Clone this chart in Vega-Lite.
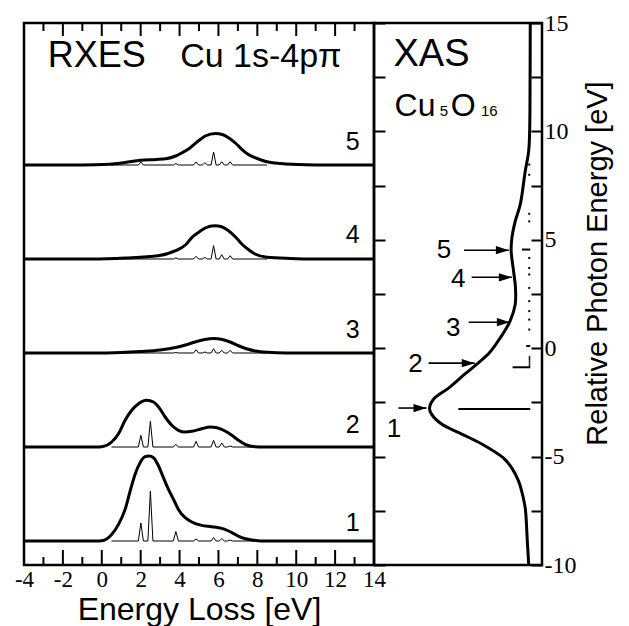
{
  "$schema": "https://vega.github.io/schema/vega-lite/v6.json",
  "padding": {"left": 13, "top": 9, "right": 5, "bottom": 0},
  "background": "white",
  "bounds": "flush",
  "spacing": 0,
  "config": {"view": {"stroke": "black", "strokeWidth": 2.5}, "font": "Liberation Sans"},
  "datasets": {
    "broad": [
      {"s":1,"E":-4,"I":0},{"s":1,"E":-0.3,"I":0},{"s":1,"E":0,"I":0.3},{"s":1,"E":0.51,"I":6.6},{"s":1,"E":0.86,"I":16.6},{"s":1,"E":1.2,"I":31.6},{"s":1,"E":1.46,"I":50},{"s":1,"E":1.71,"I":66.6},{"s":1,"E":1.97,"I":78.3},{"s":1,"E":2.23,"I":84.3},{"s":1,"E":2.43,"I":85},{"s":1,"E":2.66,"I":83.3},{"s":1,"E":2.92,"I":75},{"s":1,"E":3.17,"I":63.3},{"s":1,"E":3.43,"I":51.6},{"s":1,"E":3.69,"I":41.6},{"s":1,"E":3.94,"I":31.6},{"s":1,"E":4.29,"I":23.3},{"s":1,"E":4.63,"I":19},{"s":1,"E":5.14,"I":15.6},{"s":1,"E":5.66,"I":14.3},{"s":1,"E":6.17,"I":12.6},{"s":1,"E":6.52,"I":10},{"s":1,"E":6.86,"I":6.6},{"s":1,"E":7.2,"I":3.3},{"s":1,"E":7.72,"I":1},{"s":1,"E":8.2,"I":0},{"s":1,"E":14,"I":0},
      {"s":2,"E":-4,"I":0},{"s":2,"E":-0.3,"I":0},{"s":2,"E":0,"I":0.3},{"s":2,"E":0.51,"I":5},{"s":2,"E":0.86,"I":13.3},{"s":2,"E":1.2,"I":26.7},{"s":2,"E":1.54,"I":36.7},{"s":2,"E":1.89,"I":43.3},{"s":2,"E":2.31,"I":46.7},{"s":2,"E":2.66,"I":45},{"s":2,"E":2.92,"I":40},{"s":2,"E":3.26,"I":30},{"s":2,"E":3.6,"I":21.7},{"s":2,"E":3.94,"I":16.7},{"s":2,"E":4.29,"I":15},{"s":2,"E":4.63,"I":15.7},{"s":2,"E":5.14,"I":18.3},{"s":2,"E":5.57,"I":20},{"s":2,"E":5.92,"I":19.3},{"s":2,"E":6.34,"I":16},{"s":2,"E":6.69,"I":11.7},{"s":2,"E":7.03,"I":6.7},{"s":2,"E":7.37,"I":2.7},{"s":2,"E":7.89,"I":0.3},{"s":2,"E":8.3,"I":0},{"s":2,"E":14,"I":0},
      {"s":3,"E":-4,"I":0},{"s":3,"E":-0.5,"I":0},{"s":3,"E":1.0,"I":0.5},{"s":3,"E":2.0,"I":1.5},{"s":3,"E":3.0,"I":3},{"s":3,"E":3.8,"I":5.5},{"s":3,"E":4.3,"I":8},{"s":3,"E":4.8,"I":11},{"s":3,"E":5.3,"I":13.5},{"s":3,"E":5.75,"I":14.5},{"s":3,"E":6.2,"I":13.5},{"s":3,"E":6.6,"I":11},{"s":3,"E":7.0,"I":7.5},{"s":3,"E":7.4,"I":4.5},{"s":3,"E":7.9,"I":2},{"s":3,"E":8.5,"I":0.7},{"s":3,"E":9.5,"I":0},{"s":3,"E":14,"I":0},
      {"s":4,"E":-4,"I":0},{"s":4,"E":-0.5,"I":0},{"s":4,"E":1.2,"I":1},{"s":4,"E":2.9,"I":3.3},{"s":4,"E":3.8,"I":8.3},{"s":4,"E":4.3,"I":14},{"s":4,"E":4.64,"I":21.7},{"s":4,"E":5.0,"I":27},{"s":4,"E":5.32,"I":31},{"s":4,"E":5.8,"I":33.3},{"s":4,"E":6.2,"I":32},{"s":4,"E":6.52,"I":28.3},{"s":4,"E":6.9,"I":21.5},{"s":4,"E":7.2,"I":15},{"s":4,"E":7.5,"I":10},{"s":4,"E":7.88,"I":5},{"s":4,"E":8.5,"I":1.7},{"s":4,"E":9.7,"I":0.5},{"s":4,"E":11,"I":0},{"s":4,"E":14,"I":0},
      {"s":5,"E":-4,"I":0},{"s":5,"E":-1,"I":0},{"s":5,"E":0.4,"I":0.7},{"s":5,"E":1.2,"I":2.5},{"s":5,"E":2.0,"I":4.7},{"s":5,"E":2.8,"I":5.5},{"s":5,"E":3.3,"I":6.3},{"s":5,"E":3.8,"I":9},{"s":5,"E":4.13,"I":12.3},{"s":5,"E":4.5,"I":16.5},{"s":5,"E":4.81,"I":21.7},{"s":5,"E":5.1,"I":26},{"s":5,"E":5.32,"I":29},{"s":5,"E":5.85,"I":31.5},{"s":5,"E":6.2,"I":30.5},{"s":5,"E":6.52,"I":27.3},{"s":5,"E":6.9,"I":21.5},{"s":5,"E":7.2,"I":15.7},{"s":5,"E":7.5,"I":11},{"s":5,"E":7.88,"I":7.3},{"s":5,"E":8.2,"I":5},{"s":5,"E":8.56,"I":3},{"s":5,"E":9.2,"I":1.5},{"s":5,"E":9.76,"I":0.7},{"s":5,"E":10.5,"I":0.2},{"s":5,"E":11.5,"I":0},{"s":5,"E":14,"I":0}
    ],
    "fine": [
      {"s":1,"E":0.5,"I":0},{"s":1,"E":1.88,"I":0},{"s":1,"E":2.01,"I":18},{"s":1,"E":2.14,"I":0},{"s":1,"E":2.37,"I":0},{"s":1,"E":2.5,"I":50},{"s":1,"E":2.63,"I":0},{"s":1,"E":3.68,"I":0},{"s":1,"E":3.81,"I":9.5},{"s":1,"E":3.94,"I":0},{"s":1,"E":4.72,"I":0},{"s":1,"E":4.85,"I":2},{"s":1,"E":4.98,"I":0},{"s":1,"E":5.62,"I":0},{"s":1,"E":5.75,"I":3.5},{"s":1,"E":5.88,"I":0},{"s":1,"E":6.04,"I":0},{"s":1,"E":6.17,"I":2.5},{"s":1,"E":6.3,"I":0},{"s":1,"E":6.47,"I":0},{"s":1,"E":6.6,"I":1},{"s":1,"E":6.73,"I":0},{"s":1,"E":8.5,"I":0},
      {"s":2,"E":0.5,"I":0},{"s":2,"E":1.88,"I":0},{"s":2,"E":2.01,"I":11.7},{"s":2,"E":2.14,"I":0},{"s":2,"E":2.37,"I":0},{"s":2,"E":2.5,"I":25.7},{"s":2,"E":2.63,"I":0},{"s":2,"E":3.68,"I":0},{"s":2,"E":3.81,"I":2.7},{"s":2,"E":3.94,"I":0},{"s":2,"E":4.72,"I":0},{"s":2,"E":4.85,"I":5.7},{"s":2,"E":4.98,"I":0},{"s":2,"E":5.62,"I":0},{"s":2,"E":5.75,"I":6.7},{"s":2,"E":5.88,"I":0},{"s":2,"E":6.04,"I":0},{"s":2,"E":6.17,"I":4},{"s":2,"E":6.3,"I":0},{"s":2,"E":6.47,"I":0},{"s":2,"E":6.6,"I":1},{"s":2,"E":6.73,"I":0},{"s":2,"E":8.5,"I":0},
      {"s":3,"E":0.5,"I":0},{"s":3,"E":3.68,"I":0},{"s":3,"E":3.81,"I":0.5},{"s":3,"E":3.94,"I":0},{"s":3,"E":4.72,"I":0},{"s":3,"E":4.85,"I":3.3},{"s":3,"E":4.98,"I":0},{"s":3,"E":5.17,"I":0},{"s":3,"E":5.3,"I":1},{"s":3,"E":5.43,"I":0},{"s":3,"E":5.62,"I":0},{"s":3,"E":5.75,"I":4.3},{"s":3,"E":5.88,"I":0},{"s":3,"E":6.04,"I":0},{"s":3,"E":6.17,"I":2.7},{"s":3,"E":6.3,"I":0},{"s":3,"E":6.47,"I":0},{"s":3,"E":6.6,"I":2.7},{"s":3,"E":6.73,"I":0},{"s":3,"E":8.5,"I":0},
      {"s":4,"E":0.5,"I":0},{"s":4,"E":3.68,"I":0},{"s":4,"E":3.81,"I":1},{"s":4,"E":3.94,"I":0},{"s":4,"E":4.72,"I":0},{"s":4,"E":4.85,"I":2.7},{"s":4,"E":4.98,"I":0},{"s":4,"E":5.17,"I":0},{"s":4,"E":5.3,"I":1.5},{"s":4,"E":5.43,"I":0},{"s":4,"E":5.62,"I":0},{"s":4,"E":5.75,"I":13.3},{"s":4,"E":5.88,"I":0},{"s":4,"E":6.04,"I":0},{"s":4,"E":6.17,"I":4.3},{"s":4,"E":6.3,"I":0},{"s":4,"E":6.47,"I":0},{"s":4,"E":6.6,"I":3.3},{"s":4,"E":6.73,"I":0},{"s":4,"E":8.5,"I":0},
      {"s":5,"E":0.5,"I":0},{"s":5,"E":1.88,"I":0},{"s":5,"E":2.01,"I":3},{"s":5,"E":2.14,"I":0},{"s":5,"E":3.68,"I":0},{"s":5,"E":3.81,"I":1.5},{"s":5,"E":3.94,"I":0},{"s":5,"E":4.72,"I":0},{"s":5,"E":4.85,"I":3},{"s":5,"E":4.98,"I":0},{"s":5,"E":5.17,"I":0},{"s":5,"E":5.3,"I":2.3},{"s":5,"E":5.43,"I":0},{"s":5,"E":5.62,"I":0},{"s":5,"E":5.75,"I":13},{"s":5,"E":5.88,"I":0},{"s":5,"E":6.04,"I":0},{"s":5,"E":6.17,"I":3.3},{"s":5,"E":6.3,"I":0},{"s":5,"E":6.47,"I":0},{"s":5,"E":6.6,"I":3.3},{"s":5,"E":6.73,"I":0},{"s":5,"E":8.5,"I":0}
    ],
    "xticks": [
      {"v":-2,"y0":-24,"y1":-9},{"v":0,"y0":-24,"y1":-9},{"v":2,"y0":-24,"y1":-9},{"v":4,"y0":-24,"y1":-9},{"v":6,"y0":-24,"y1":-9},{"v":8,"y0":-24,"y1":-9},{"v":10,"y0":-24,"y1":-9},{"v":12,"y0":-24,"y1":-9},
      {"v":-3,"y0":-24,"y1":-16},{"v":-1,"y0":-24,"y1":-16},{"v":1,"y0":-24,"y1":-16},{"v":3,"y0":-24,"y1":-16},{"v":5,"y0":-24,"y1":-16},{"v":7,"y0":-24,"y1":-16},{"v":9,"y0":-24,"y1":-16},{"v":11,"y0":-24,"y1":-16},{"v":13,"y0":-24,"y1":-16},
      {"v":-2,"y0":505,"y1":518},{"v":0,"y0":505,"y1":518},{"v":2,"y0":505,"y1":518},{"v":4,"y0":505,"y1":518},{"v":6,"y0":505,"y1":518},{"v":8,"y0":505,"y1":518},{"v":10,"y0":505,"y1":518},{"v":12,"y0":505,"y1":518},
      {"v":-3,"y0":510,"y1":518},{"v":-1,"y0":510,"y1":518},{"v":1,"y0":510,"y1":518},{"v":3,"y0":510,"y1":518},{"v":5,"y0":510,"y1":518},{"v":7,"y0":510,"y1":518},{"v":9,"y0":510,"y1":518},{"v":11,"y0":510,"y1":518},{"v":13,"y0":510,"y1":518}
    ],
    "nums": [
      {"s":1,"E":12.9,"I":18,"label":"1"},{"s":2,"E":12.9,"I":22,"label":"2"},{"s":3,"E":12.9,"I":23,"label":"3"},{"s":4,"E":12.9,"I":24,"label":"4"},{"s":5,"E":12.9,"I":23,"label":"5"}
    ],
    "ltitle1": [{"E":-0.26,"Y":474,"t":"RXES"}],
    "ltitle2": [{"E":8.18,"Y":474,"t":"Cu 1s-4pπ"}],
    "xas": [
      {"E":-10,"I":1.5},{"E":-9.0,"I":2.8},{"E":-8.57,"I":3.3},{"E":-7.37,"I":5},{"E":-6.6,"I":8.5},{"E":-6.13,"I":11.6},{"E":-5.53,"I":18.3},{"E":-5.07,"I":26.6},{"E":-4.42,"I":48.3},{"E":-3.96,"I":68.3},{"E":-3.5,"I":88.3},{"E":-3.04,"I":98.3},{"E":-2.76,"I":100.3},{"E":-2.3,"I":95.3},{"E":-1.84,"I":81.3},{"E":-1.2,"I":65.3},{"E":-0.69,"I":52},{"E":-0.2,"I":40.5},{"E":0.47,"I":30},{"E":1.24,"I":20.2},{"E":2.01,"I":15},{"E":2.78,"I":14.7},{"E":3.55,"I":16.6},{"E":4.47,"I":19},{"E":5.08,"I":18.3},{"E":5.85,"I":15},{"E":6.62,"I":10},{"E":8.16,"I":5},{"E":9.08,"I":1.6},{"E":10,"I":0.6},{"E":12,"I":0.2},{"E":15,"I":0}
    ],
    "sticks": [
      {"E":-2.8,"I":71.6},{"E":-0.88,"I":17.6},{"E":-0.8,"I":1.5},{"E":-0.7,"I":1.5},{"E":-0.6,"I":1.5},{"E":-0.5,"I":1.5},{"E":-0.4,"I":1.5},{"E":0.1,"I":4},{"E":0.86,"I":2},{"E":1.32,"I":2},{"E":1.71,"I":2},{"E":2.17,"I":2},{"E":2.78,"I":2},{"E":3.4,"I":2},{"E":3.7,"I":2},{"E":4.16,"I":2},{"E":4.55,"I":8.3},{"E":5.85,"I":2},{"E":6.2,"I":2},{"E":8.0,"I":2},{"E":8.47,"I":2}
    ],
    "arrows": [
      {"n":"5","E":4.52,"I0":66,"I1":21.3,"LI":85.8,"LE":4.52},
      {"n":"4","E":3.27,"I0":58.3,"I1":18.3,"LI":71.8,"LE":3.2},
      {"n":"3","E":1.2,"I0":61.3,"I1":20.3,"LI":76.8,"LE":0.94},
      {"n":"2","E":-0.69,"I0":101.3,"I1":55.3,"LI":114.3,"LE":-0.74},
      {"n":"1","E":-2.76,"I0":131.3,"I1":103.3,"LI":135.8,"LE":-3.73}
    ],
    "rtitle": [{"I":98.3,"E":13.0,"t":"XAS"}],
    "rbig": [{"I":114.8,"E":10.69,"t":"Cu"},{"I":66.8,"E":10.69,"t":"O"}],
    "rsub": [{"I":86,"E":10.69,"t":"5"},{"I":40.8,"E":10.69,"t":"16"}]
  },
  "hconcat": [
    {
      "width": 350,
      "height": 542,
      "layer": [
        {
          "data": {"name": "broad"},
          "transform": [{"calculate": "datum.I + (datum.s - 1) * 94", "as": "Y"}],
          "mark": {"type": "line", "color": "black", "strokeWidth": 3, "interpolate": "monotone"},
          "encoding": {
            "x": {"field": "E", "type": "quantitative", "scale": {"domain": [-4, 14], "nice": false, "zero": false},
              "axis": {"orient": "bottom", "values": [-4,-2,0,2,4,6,8,10,12,14], "ticks": false, "domain": false, "grid": false,
                "labelFont": "Liberation Serif", "labelFontSize": 23, "labelColor": "black", "labelPadding": 3, "labelFlush": false, "labelOverlap": false, "labelBound": false,
                "labelExpr": "'' + datum.value", "title": "Energy Loss [eV]", "titleFont": "Liberation Sans", "titleFontSize": 32, "titleFontWeight": "normal", "titleColor": "black",
                "titleY": 54, "titleBaseline": "alphabetic"}},
            "y": {"field": "Y", "type": "quantitative", "scale": {"domain": [-24, 518], "nice": false, "zero": false}, "axis": null},
            "detail": {"field": "s"}
          }
        },
        {
          "data": {"name": "fine"},
          "transform": [{"calculate": "datum.I + (datum.s - 1) * 94", "as": "Y"}],
          "mark": {"type": "line", "color": "black", "strokeWidth": 1},
          "encoding": {
            "x": {"field": "E", "type": "quantitative", "axis": null},
            "y": {"field": "Y", "type": "quantitative", "axis": null},
            "detail": {"field": "s"}
          }
        },
        {
          "data": {"name": "xticks"},
          "mark": {"type": "rule", "color": "black", "strokeWidth": 2},
          "encoding": {
            "x": {"field": "v", "type": "quantitative", "axis": null},
            "y": {"field": "y0", "type": "quantitative", "axis": null},
            "y2": {"field": "y1"}
          }
        },
        {
          "data": {"name": "nums"},
          "transform": [{"calculate": "datum.I + (datum.s - 1) * 94", "as": "Y"}],
          "mark": {"type": "text", "font": "Liberation Sans", "fontSize": 25, "color": "black", "align": "center", "baseline": "middle"},
          "encoding": {
            "x": {"field": "E", "type": "quantitative", "axis": null},
            "y": {"field": "Y", "type": "quantitative", "axis": null},
            "text": {"field": "label"}
          }
        },
        {
          "data": {"name": "ltitle1"},
          "mark": {"type": "text", "font": "Liberation Sans", "fontSize": 36, "color": "black", "align": "center", "baseline": "alphabetic"},
          "encoding": {
            "x": {"field": "E", "type": "quantitative", "axis": null},
            "y": {"field": "Y", "type": "quantitative", "axis": null},
            "text": {"field": "t"}
          }
        },
        {
          "data": {"name": "ltitle2"},
          "mark": {"type": "text", "font": "Liberation Sans", "fontSize": 34, "color": "black", "align": "center", "baseline": "alphabetic"},
          "encoding": {
            "x": {"field": "E", "type": "quantitative", "axis": null},
            "y": {"field": "Y", "type": "quantitative", "axis": null},
            "text": {"field": "t"}
          }
        }
      ],
      "resolve": {"axis": {"x": "independent"}}
    },
    {
      "width": 168,
      "height": 542,
      "layer": [
        {
          "data": {"name": "xas"},
          "mark": {"type": "line", "color": "black", "strokeWidth": 3, "interpolate": "catmull-rom"},
          "encoding": {
            "x": {"field": "I", "type": "quantitative", "scale": {"domain": [-11.7, 155.6], "reverse": true, "nice": false, "zero": false}, "axis": null},
            "y": {"field": "E", "type": "quantitative", "scale": {"domain": [-10, 15], "nice": false, "zero": false},
              "axis": {"orient": "right", "values": [-10,-7.5,-5,-2.5,0,2.5,5,7.5,10,12.5,15], "tickSize": -11, "tickWidth": 2, "tickColor": "black", "domain": false, "grid": false,
                "labelFont": "Liberation Serif", "labelFontSize": 24, "labelColor": "black", "labelPadding": 13, "labelFlush": false, "labelOverlap": false, "labelBound": false,
                "labelAlign": "left", "labelBaseline": "middle",
                "labelExpr": "datum.value % 5 == 0 ? '' + datum.value : ''",
                "title": "Relative Photon Energy [eV]", "titleAngle": 270, "titleFont": "Liberation Sans", "titleFontSize": 29, "titleFontWeight": "normal", "titleColor": "black",
                "titleX": 64, "titleY": 240, "titleAlign": "center", "titleBaseline": "alphabetic"}},
            "order": {"field": "E", "type": "quantitative"}
          }
        },
        {
          "data": {"name": "sticks"},
          "mark": {"type": "rule", "color": "black", "strokeWidth": 2},
          "encoding": {
            "x": {"field": "I", "type": "quantitative"},
            "x2": {"datum": 0},
            "y": {"field": "E", "type": "quantitative",
              "axis": {"orient": "left", "values": [-10,-7.5,-5,-2.5,0,2.5,5,7.5,10,12.5,15], "tickSize": -11, "tickWidth": 2, "tickColor": "black", "domain": false, "grid": false, "labels": false, "title": null}}
          }
        },
        {
          "data": {"name": "arrows"},
          "mark": {"type": "rule", "color": "black", "strokeWidth": 1.6},
          "encoding": {
            "x": {"field": "I0", "type": "quantitative"},
            "x2": {"field": "I1"},
            "y": {"field": "E", "type": "quantitative", "axis": null}
          }
        },
        {
          "data": {"name": "arrows"},
          "mark": {"type": "point", "shape": "M -1 -0.32 L 0 0 L -1 0.32 Z", "size": 676, "filled": true, "color": "black", "opacity": 1, "strokeWidth": 0},
          "encoding": {
            "x": {"field": "I1", "type": "quantitative"},
            "y": {"field": "E", "type": "quantitative", "axis": null}
          }
        },
        {
          "data": {"name": "arrows"},
          "mark": {"type": "text", "font": "Liberation Sans", "fontSize": 26, "color": "black", "align": "center", "baseline": "middle"},
          "encoding": {
            "x": {"field": "LI", "type": "quantitative"},
            "y": {"field": "LE", "type": "quantitative", "axis": null},
            "text": {"field": "n"}
          }
        },
        {
          "data": {"name": "rtitle"},
          "mark": {"type": "text", "font": "Liberation Sans", "fontSize": 38, "color": "black", "align": "center", "baseline": "alphabetic"},
          "encoding": {
            "x": {"field": "I", "type": "quantitative"},
            "y": {"field": "E", "type": "quantitative", "axis": null},
            "text": {"field": "t"}
          }
        },
        {
          "data": {"name": "rbig"},
          "mark": {"type": "text", "font": "Liberation Sans", "fontSize": 32, "color": "black", "align": "center", "baseline": "alphabetic"},
          "encoding": {
            "x": {"field": "I", "type": "quantitative"},
            "y": {"field": "E", "type": "quantitative", "axis": null},
            "text": {"field": "t"}
          }
        },
        {
          "data": {"name": "rsub"},
          "mark": {"type": "text", "font": "Liberation Sans", "fontSize": 15, "color": "black", "align": "center", "baseline": "alphabetic"},
          "encoding": {
            "x": {"field": "I", "type": "quantitative"},
            "y": {"field": "E", "type": "quantitative", "axis": null},
            "text": {"field": "t"}
          }
        }
      ],
      "resolve": {"axis": {"y": "independent"}}
    }
  ]
}
